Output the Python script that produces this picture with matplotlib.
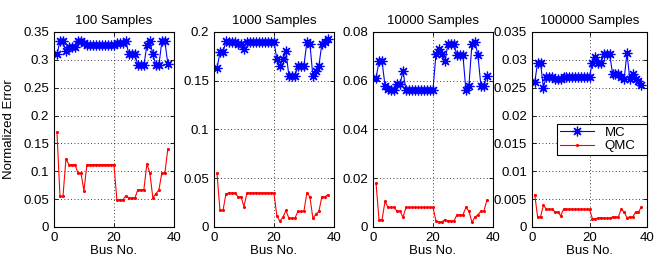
import matplotlib.pyplot as plt
import numpy as np

plt.rcParams['font.family'] = ['Liberation Sans', 'DejaVu Sans']

# bus numbers 1..38
bus = np.arange(1, 39)

titles = ['100 Samples', '1000 Samples', '10000 Samples', '100000 Samples']

mc100 = [0.31, 0.333, 0.333, 0.315, 0.323, 0.323, 0.323, 0.333, 0.333, 0.33,
         0.326, 0.326, 0.326, 0.326, 0.326, 0.326, 0.326, 0.326, 0.326, 0.326,
         0.33, 0.33, 0.33, 0.333, 0.31, 0.31, 0.31, 0.29, 0.29, 0.29,
         0.326, 0.333, 0.31, 0.29, 0.29, 0.333, 0.333, 0.293]
qmc100 = [0.17, 0.055, 0.055, 0.122, 0.112, 0.112, 0.112, 0.097, 0.097, 0.065,
          0.112, 0.112, 0.112, 0.112, 0.112, 0.112, 0.112, 0.112, 0.112, 0.112,
          0.049, 0.049, 0.049, 0.056, 0.052, 0.052, 0.052, 0.067, 0.067, 0.067,
          0.113, 0.097, 0.052, 0.06, 0.066, 0.097, 0.097, 0.14]

mc1000 = [0.163, 0.179, 0.179, 0.191, 0.19, 0.19, 0.19, 0.188, 0.188, 0.183,
          0.19, 0.19, 0.19, 0.19, 0.19, 0.19, 0.19, 0.19, 0.19, 0.19,
          0.172, 0.165, 0.172, 0.18, 0.155, 0.155, 0.155, 0.165, 0.165, 0.165,
          0.19, 0.188, 0.155, 0.16, 0.165, 0.188, 0.19, 0.193]
qmc1000 = [0.055, 0.017, 0.017, 0.034, 0.035, 0.035, 0.035, 0.031, 0.031, 0.021,
           0.035, 0.035, 0.035, 0.035, 0.035, 0.035, 0.035, 0.035, 0.035, 0.035,
           0.011, 0.006, 0.01, 0.017, 0.009, 0.009, 0.009, 0.016, 0.016, 0.016,
           0.035, 0.031, 0.009, 0.013, 0.016, 0.031, 0.031, 0.033]

mc10000 = [0.061, 0.068, 0.068, 0.058, 0.0565, 0.056, 0.056, 0.0585, 0.0585, 0.064,
           0.056, 0.056, 0.056, 0.056, 0.056, 0.056, 0.056, 0.056, 0.056, 0.056,
           0.071, 0.073, 0.071, 0.068, 0.075, 0.075, 0.075, 0.0705, 0.0705, 0.0705,
           0.056, 0.058, 0.075, 0.076, 0.0705, 0.058, 0.058, 0.062]
qmc10000 = [0.018, 0.003, 0.003, 0.0105, 0.008, 0.008, 0.008, 0.0065, 0.0065, 0.004,
            0.008, 0.008, 0.008, 0.008, 0.008, 0.008, 0.008, 0.008, 0.008, 0.008,
            0.0025, 0.002, 0.0022, 0.003, 0.0025, 0.0025, 0.0025, 0.005, 0.005, 0.005,
            0.008, 0.0065, 0.002, 0.004, 0.005, 0.0065, 0.0065, 0.011]

mc100000 = [0.026, 0.0295, 0.0295, 0.025, 0.027, 0.027, 0.027, 0.0265, 0.0265, 0.0265,
            0.027, 0.027, 0.027, 0.027, 0.027, 0.027, 0.027, 0.027, 0.027, 0.027,
            0.0295, 0.0305, 0.0295, 0.0295, 0.031, 0.031, 0.031, 0.0275, 0.0275, 0.0275,
            0.027, 0.0265, 0.0312, 0.0265, 0.0275, 0.0265, 0.0262, 0.0255]
qmc100000 = [0.0058, 0.0018, 0.0018, 0.0039, 0.0032, 0.0032, 0.0032, 0.0027, 0.0027, 0.002,
             0.0032, 0.0032, 0.0032, 0.0032, 0.0032, 0.0032, 0.0032, 0.0032, 0.0032, 0.0032,
             0.0015, 0.0015, 0.0016, 0.0017, 0.0016, 0.0016, 0.0016, 0.0018, 0.0018, 0.0018,
             0.0032, 0.0027, 0.0017, 0.0018, 0.0018, 0.0027, 0.0027, 0.0036]

mcData = [mc100, mc1000, mc10000, mc100000]
qmcData = [qmc100, qmc1000, qmc10000, qmc100000]
yTicks = [np.arange(0, 0.351, 0.05), np.arange(0, 0.201, 0.05),
          np.arange(0, 0.081, 0.02), np.arange(0, 0.0351, 0.005)]
yTickLabels = [['0', '0.05', '0.1', '0.15', '0.2', '0.25', '0.3', '0.35'],
               ['0', '0.05', '0.1', '0.15', '0.2'],
               ['0', '0.02', '0.04', '0.06', '0.08'],
               ['0', '0.005', '0.01', '0.015', '0.02', '0.025', '0.03', '0.035']]

fig = plt.figure(figsize=(6.55, 2.59), dpi=100)
lefts = [0.0824, 0.3267, 0.5695, 0.812]
widths = [0.183, 0.183, 0.183, 0.176]

for i in range(4):
    ax = fig.add_axes([lefts[i], 0.1236, widths[i], 0.753])
    # matlab style asterisk marker (8 spokes)
    ax.plot(bus, mcData[i], color='#0000ff', marker=(8, 2, 0), markersize=7,
            markeredgewidth=0.9, linewidth=0.8, label='MC')
    ax.plot(bus, qmcData[i], color='#ff0000', marker='.', markersize=2.5,
            linewidth=0.8, label='QMC')
    ax.set_xlim(0, 40)
    ax.set_ylim(yTicks[i][0], yTicks[i][-1])
    ax.set_xticks([0, 20, 40])
    ax.set_yticks(yTicks[i])
    ax.set_yticklabels(yTickLabels[i])
    ax.grid(True, color='black', linestyle=(0, (1, 3)), linewidth=0.6)
    ax.tick_params(direction='in', top=True, right=True, labelsize=9.5,
                   length=3, width=0.6)
    for s in ax.spines.values():
        s.set_linewidth(0.8)
    ax.set_title(titles[i], fontsize=9.5)
    ax.set_xlabel('Bus No.', fontsize=9.5, labelpad=1)
    if i == 0:
        ax.set_ylabel('Normalized Error', fontsize=9.5, labelpad=6)
    if i == 3:
        leg = ax.legend(loc='lower left', bbox_to_anchor=(0.22, 0.37, 0.78, 0.17),
                        mode='expand', fontsize=9.5, fancybox=False,
                        framealpha=1, borderaxespad=0, handlelength=2.6,
                        borderpad=0.2, labelspacing=0.1)
        leg.get_frame().set_edgecolor('black')
        leg.get_frame().set_linewidth(0.8)

plt.savefig('out.png', dpi=100)
